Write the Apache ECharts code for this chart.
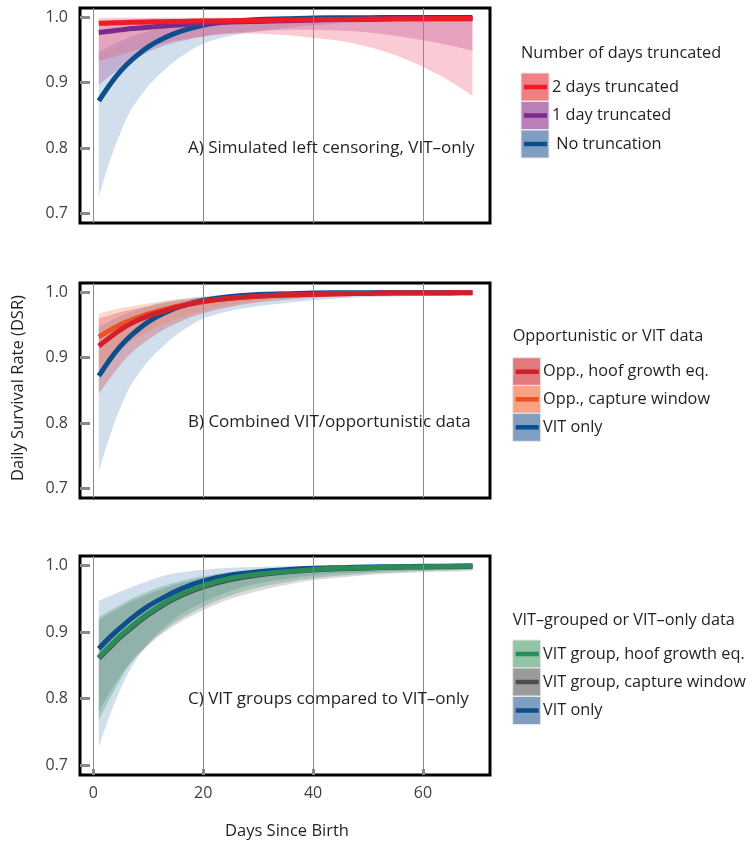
<!DOCTYPE html>
<html><head><meta charset="utf-8">
<script src="https://cdn.jsdelivr.net/npm/echarts@6/dist/echarts.min.js"></script>
<style>html,body{margin:0;padding:0;background:#fff}#c{width:754px;height:842px}</style>
</head><body><div id="c"></div>
<script>
// ---------- DATA ----------
const days = [1,3,5,7,10,13,16,20,25,30,35,40,45,50,55,60,65,69];
const xTicks = [0,20,40,60];
const yTicks = [0.7,0.8,0.9,1.0];

// Panel A
const A_noTrunc      = [0.872,0.897,0.918,0.935,0.955,0.969,0.979,0.988,0.994,0.997,0.998,0.9992,0.9995,0.9997,0.9998,0.9999,0.9999,0.9999];
const A_noTruncLo    = [0.725,0.780,0.825,0.860,0.895,0.920,0.940,0.960,0.972,0.979,0.984,0.988,0.991,0.993,0.994,0.995,0.996,0.997];
const A_noTruncHi    = [0.947,0.956,0.964,0.971,0.979,0.986,0.990,0.994,0.997,0.998,0.999,0.9995,0.9997,0.9998,0.9999,0.9999,1.0,1.0];
const A_oneDay       = [0.977,0.979,0.981,0.983,0.985,0.987,0.989,0.991,0.993,0.994,0.995,0.996,0.997,0.997,0.998,0.998,0.998,0.998];
const A_oneDayLo     = [0.897,0.910,0.922,0.933,0.947,0.957,0.964,0.971,0.976,0.979,0.981,0.981,0.980,0.977,0.972,0.965,0.957,0.949];
const A_oneDayHi     = [0.996,0.996,0.997,0.997,0.998,0.998,0.998,0.999,0.999,0.999,0.999,0.999,0.999,0.999,0.999,0.9995,0.9995,0.9995];
const A_twoDays      = [0.991,0.9915,0.992,0.9925,0.993,0.9935,0.994,0.9945,0.995,0.9955,0.996,0.9965,0.997,0.9975,0.998,0.998,0.9985,0.9985];
const A_twoDaysLo    = [0.933,0.938,0.943,0.948,0.955,0.961,0.966,0.971,0.975,0.975,0.973,0.969,0.964,0.955,0.942,0.924,0.902,0.880];
const A_twoDaysHi    = [0.999,0.9995,0.9995,0.9995,0.9995,0.9995,0.9995,0.9995,0.9997,0.9997,0.9998,0.9998,0.9999,0.9999,0.9999,1.0,1.0,1.0];

// Panel B
const B_vit          = [0.872,0.897,0.918,0.935,0.955,0.969,0.979,0.988,0.994,0.997,0.998,0.9992,0.9995,0.9997,0.9998,0.9999,0.9999,0.9999];
const B_vitLo        = [0.725,0.780,0.825,0.860,0.895,0.920,0.940,0.960,0.972,0.979,0.984,0.988,0.991,0.993,0.994,0.995,0.996,0.997];
const B_vitHi        = [0.947,0.956,0.964,0.971,0.979,0.986,0.990,0.994,0.997,0.998,0.999,0.9995,0.9997,0.9998,0.9999,0.9999,1.0,1.0];
const B_hoof         = [0.918,0.931,0.943,0.953,0.964,0.972,0.979,0.986,0.991,0.994,0.996,0.997,0.998,0.9985,0.999,0.999,0.9993,0.9995];
const B_hoofLo       = [0.845,0.868,0.890,0.908,0.928,0.944,0.956,0.968,0.978,0.985,0.989,0.992,0.994,0.995,0.996,0.997,0.997,0.998];
const B_hoofHi       = [0.960,0.965,0.970,0.974,0.979,0.984,0.988,0.992,0.995,0.997,0.998,0.9985,0.999,0.999,0.9993,0.9994,0.9995,0.9995];
const B_capture      = [0.932,0.942,0.951,0.958,0.967,0.974,0.980,0.986,0.991,0.994,0.996,0.997,0.998,0.9985,0.999,0.999,0.9993,0.9995];
const B_captureLo    = [0.885,0.900,0.914,0.926,0.940,0.952,0.962,0.972,0.981,0.987,0.991,0.993,0.995,0.996,0.997,0.997,0.998,0.998];
const B_captureHi    = [0.968,0.972,0.976,0.979,0.983,0.987,0.990,0.993,0.996,0.997,0.998,0.9985,0.999,0.999,0.9993,0.9994,0.9995,0.9995];

// Panel C
const C_vit          = [0.875,0.892,0.907,0.921,0.939,0.953,0.965,0.977,0.986,0.991,0.994,0.996,0.997,0.998,0.9985,0.999,0.9992,0.9994];
const C_vitLo        = [0.727,0.775,0.815,0.848,0.883,0.908,0.927,0.945,0.962,0.973,0.980,0.985,0.988,0.990,0.992,0.993,0.994,0.995];
const C_vitHi        = [0.947,0.954,0.961,0.968,0.977,0.985,0.990,0.994,0.997,0.998,0.999,0.9995,0.9997,0.9998,0.9999,0.9999,1.0,1.0];
const C_grpHoof      = [0.862,0.879,0.895,0.909,0.928,0.944,0.957,0.970,0.981,0.987,0.991,0.994,0.996,0.997,0.998,0.9985,0.999,0.9993];
const C_grpHoofLo    = [0.767,0.800,0.830,0.855,0.882,0.903,0.920,0.938,0.955,0.967,0.975,0.981,0.985,0.988,0.990,0.992,0.993,0.994];
const C_grpHoofHi    = [0.922,0.932,0.941,0.950,0.961,0.970,0.977,0.984,0.990,0.993,0.995,0.997,0.998,0.9985,0.999,0.999,0.9993,0.9995];
const C_grpCapture   = [0.8605,0.877,0.893,0.907,0.926,0.942,0.955,0.968,0.979,0.986,0.9905,0.9935,0.9955,0.9965,0.9975,0.998,0.9985,0.999];
const C_grpCaptureLo = [0.780,0.810,0.835,0.857,0.880,0.900,0.916,0.933,0.950,0.962,0.971,0.978,0.982,0.986,0.988,0.990,0.991,0.992];
const C_grpCaptureHi = [0.918,0.928,0.937,0.946,0.957,0.966,0.974,0.981,0.988,0.992,0.994,0.996,0.997,0.998,0.9985,0.999,0.999,0.9993];

// Text
const panelTitles = ['A) Simulated left censoring, VIT\u2013only','B) Combined VIT/opportunistic data','C) VIT groups compared to VIT\u2013only'];
const legendTitles = ['Number of days truncated','Opportunistic or VIT data','VIT\u2013grouped or VIT\u2013only data'];
const legendLabelsA = ['2 days truncated','1 day truncated',' No truncation'];
const legendLabelsB = ['Opp., hoof growth eq.','Opp., capture window','VIT only'];
const legendLabelsC = ['VIT group, hoof growth eq.','VIT group, capture window','VIT only'];
const yAxisTitle = 'Daily Survival Rate (DSR)';
const xAxisTitle = 'Days Since Birth';

// ---------- STYLE ----------
const FONT = '"Open Sans"';
const FS_PANEL = 17, FS_LEG = 16.3, FS_AXT = 16.5, FS_TICK = 16;
const TXT = '#231f20';
const col = {
  red:'#ed1c24', purple:'#7b2a8c', blue:'#0c4f8c',
  hoof:'#d21f2e', capture:'#f04e23', green:'#2a8c57', gray:'#4d4d4d'
};
const band = {
  red:'rgba(236,70,100,0.28)', purple:'rgba(165,70,160,0.30)', blue:'rgba(100,150,190,0.30)',
  hoof:'rgba(205,40,50,0.28)', capture:'rgba(245,120,80,0.28)',
  green:'rgba(42,140,87,0.28)', gray:'rgba(90,90,90,0.22)'
};
const grids = [
  {left:80, top:8,   width:410, height:215},
  {left:80, top:283, width:410, height:215},
  {left:80, top:556, width:410, height:219}
];

const zip = arr => days.map((d,i)=>[d,arr[i]]);

// smooth path segment through points (Catmull-Rom -> cubic Bezier)
function smoothSeg(pts){
  let s = '';
  for (let i=0;i<pts.length-1;i++){
    const p0 = pts[Math.max(0,i-1)], p1 = pts[i], p2 = pts[i+1], p3 = pts[Math.min(pts.length-1,i+2)];
    const c1 = [p1[0]+(p2[0]-p0[0])/6, p1[1]+(p2[1]-p0[1])/6];
    const c2 = [p2[0]-(p3[0]-p1[0])/6, p2[1]-(p3[1]-p1[1])/6];
    s += ' C'+c1[0]+' '+c1[1]+' '+c2[0]+' '+c2[1]+' '+p2[0]+' '+p2[1];
  }
  return s;
}

const series = [];
function gridLines(g){
  series.push({type:'line', xAxisIndex:g, yAxisIndex:g, data:[], silent:true,
    markLine:{silent:true, symbol:['none','none'], label:{show:false},
      lineStyle:{color:'#8a8a8a', width:1, type:'solid'},
      data: xTicks.map(v=>({xAxis:v}))}});
}
function addBand(g, lo, hi, color){
  series.push({type:'custom', xAxisIndex:g, yAxisIndex:g, silent:true, clip:true,
    data:[[days[0], lo[0]]],
    renderItem:function(params, api){
      const up = days.map((d,i)=>api.coord([d,hi[i]]));
      const dn = days.map((d,i)=>api.coord([d,lo[i]])).reverse();
      const path = 'M'+up[0][0]+' '+up[0][1]+smoothSeg(up)+' L'+dn[0][0]+' '+dn[0][1]+smoothSeg(dn)+' Z';
      return {type:'path', shape:{pathData:path}, style:{fill:color, stroke:null}};
    }});
}
function addLine(g, vals, color){
  series.push({type:'line', xAxisIndex:g, yAxisIndex:g, smooth:0.3, symbol:'none', silent:true,
    lineStyle:{color:color, width:5, cap:'butt'}, data: zip(vals)});
}

// Panel A
gridLines(0);
addBand(0, A_noTruncLo, A_noTruncHi, band.blue);
addBand(0, A_oneDayLo, A_oneDayHi, band.purple);
addBand(0, A_twoDaysLo, A_twoDaysHi, band.red);
addLine(0, A_noTrunc, col.blue);
addLine(0, A_oneDay, col.purple);
addLine(0, A_twoDays, col.red);
// Panel B
gridLines(1);
addBand(1, B_vitLo, B_vitHi, band.blue);
addBand(1, B_hoofLo, B_hoofHi, band.hoof);
addBand(1, B_captureLo, B_captureHi, band.capture);
addLine(1, B_vit, col.blue);
addLine(1, B_capture, col.capture);
addLine(1, B_hoof, col.hoof);
// Panel C
gridLines(2);
addBand(2, C_vitLo, C_vitHi, band.blue);
addBand(2, C_grpCaptureLo, C_grpCaptureHi, band.gray);
addBand(2, C_grpHoofLo, C_grpHoofHi, band.green);
addLine(2, C_vit, col.blue);
addLine(2, C_grpCapture, col.gray);
addLine(2, C_grpHoof, col.green);

const xAxes = grids.map((g,i)=>({
  type:'value', gridIndex:i, min:-2.42, max:72.2,
  splitLine:{show:false}, axisLine:{show:false, onZero:false},
  axisTick: i===2 ? {show:true, inside:true, length:6, customValues:xTicks, lineStyle:{color:'#8a8a8a', width:3}} : {show:false},
  axisLabel: i===2 ? {show:true, customValues:xTicks, margin:10, color:'#404040', fontSize:FS_TICK, fontFamily:FONT} : {show:false}
}));
const yAxes = grids.map((g,i)=>({
  type:'value', gridIndex:i, min:0.685, max:1.0145,
  splitLine:{show:false}, axisLine:{show:false, onZero:false},
  axisTick:{show:true, inside:true, length:10, customValues:yTicks, lineStyle:{color:'#8a8a8a', width:3}},
  axisLabel:{show:true, customValues:yTicks, margin:12, color:'#404040', fontSize:FS_TICK, fontFamily:FONT,
    formatter:v=>v.toFixed(1)}
}));

// legends / annotations as graphic
const graphic = [];
const panelTextY = [148, 422, 699];
panelTitles.forEach((t,i)=>graphic.push({type:'text', x:188, y:panelTextY[i], z:100,
  style:{text:t, font:FS_PANEL+'px '+FONT, fill:TXT, textVerticalAlign:'middle'}}));

function legend(title, tx, ty, boxX, boxYs, labels, boxCols, lineCols, textX){
  graphic.push({type:'text', x:tx, y:ty, style:{text:title, font:FS_LEG+'px '+FONT, fill:TXT, textVerticalAlign:'middle'}});
  labels.forEach((lab,i)=>{
    const y = boxYs[i];
    graphic.push({type:'rect', shape:{x:boxX, y:y, width:28, height:28}, style:{fill:boxCols[i], stroke:'#e8e8e8', lineWidth:1}});
    graphic.push({type:'line', shape:{x1:boxX+3, y1:y+14, x2:boxX+26, y2:y+14}, style:{stroke:lineCols[i], lineWidth:4.5}});
    graphic.push({type:'text', x:textX, y:y+14, style:{text:lab, font:FS_LEG+'px '+FONT, fill:TXT, textVerticalAlign:'middle'}});
  });
}
legend(legendTitles[0], 521, 53, 521, [73,101.5,130], legendLabelsA,
  ['#f27f82','#b880b6','#809fc0'], [col.red,col.purple,col.blue], 552);
legend(legendTitles[1], 512.7, 336, 512.7, [357.7,385.3,413.3], legendLabelsB,
  ['#e07a7c','#f7a283','#809fc0'], [col.hoof,col.capture,col.blue], 543);
legend(legendTitles[2], 512.7, 620, 512.7, [640,668,696.5], legendLabelsC,
  ['#92c4a7','#9b9b9b','#809fc0'], [col.green,col.gray,col.blue], 543);

graphic.push({type:'text', x:18, y:388, rotation:Math.PI/2,
  style:{text:yAxisTitle, font:FS_AXT+'px '+FONT, fill:TXT, textAlign:'center', textVerticalAlign:'middle'}});
graphic.push({type:'text', x:287, y:831, style:{text:xAxisTitle, font:FS_AXT+'px '+FONT, fill:TXT, textAlign:'center', textVerticalAlign:'middle'}});

const chart = echarts.init(document.getElementById('c'), null, {renderer:'canvas'});
chart.setOption({
  animation:false,
  backgroundColor:'#fff',
  grid: grids.map(g=>Object.assign({show:true, borderColor:'#000', borderWidth:3, backgroundColor:'transparent'}, g)),
  xAxis: xAxes, yAxis: yAxes, series: series, graphic: graphic
});
</script></body></html>
